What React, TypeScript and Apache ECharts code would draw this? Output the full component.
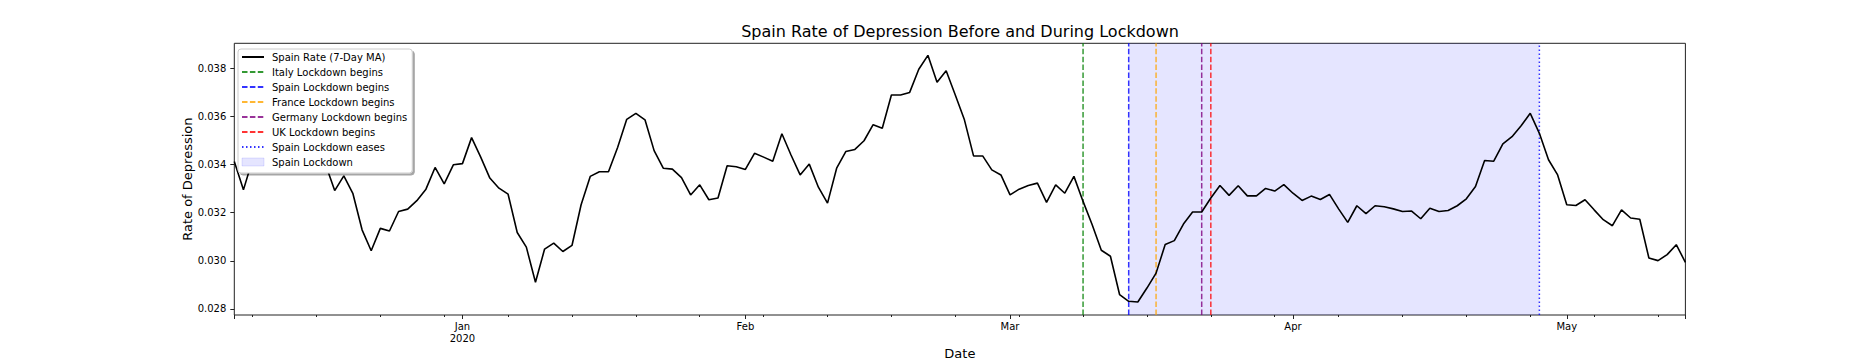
import { useEffect, useRef } from "react";
import * as echarts from "echarts";

// ---- data ----
const startDate = "2019-12-07";
const endDate = "2020-05-14";

// Daily 7-day moving average of Spain's rate of depression, starting at startDate
const spainRate7DayMA = [
  0.03413, 0.03295, 0.0342, 0.0346, 0.0349, 0.0351, 0.0348, 0.035, 0.0346, 0.0343,
  0.034, 0.03292, 0.03353, 0.03279, 0.03129, 0.03042, 0.03135, 0.03124, 0.03205, 0.03215,
  0.0325, 0.03298, 0.03388, 0.0332, 0.03399, 0.03404, 0.03512, 0.03431, 0.03344, 0.03302,
  0.03277, 0.03118, 0.03057, 0.02911, 0.03049, 0.03074, 0.03039, 0.03064, 0.03233, 0.03351,
  0.0337, 0.0337, 0.03471, 0.03588, 0.03613, 0.03586, 0.03458, 0.03385, 0.03381, 0.03346,
  0.03274, 0.03316, 0.03254, 0.03261, 0.03395, 0.03391, 0.0338, 0.03447, 0.03431, 0.03414,
  0.03528, 0.0344, 0.03357, 0.03402, 0.03306, 0.0324, 0.03385, 0.03454, 0.03463, 0.03499,
  0.03566, 0.03551, 0.03689, 0.03689, 0.037, 0.03796, 0.03854, 0.03742, 0.0379, 0.03689,
  0.03586, 0.03436, 0.03436, 0.03378, 0.03357, 0.03274, 0.03298, 0.03313, 0.03323, 0.03243,
  0.03316, 0.03281, 0.03351, 0.03247, 0.0315, 0.03044, 0.03019, 0.0286, 0.02832, 0.02829,
  0.02887, 0.02949, 0.03068, 0.03084, 0.03153, 0.03203, 0.03203, 0.03261, 0.03313, 0.03272,
  0.03312, 0.0327, 0.0327, 0.03301, 0.0329, 0.03317, 0.03281, 0.03251, 0.03269, 0.03255,
  0.03276, 0.03216, 0.0316, 0.03229, 0.03196, 0.03229, 0.03225, 0.03216, 0.03205, 0.03207,
  0.03175, 0.03219, 0.03205, 0.03209, 0.03229, 0.03258, 0.03309, 0.03417, 0.03414, 0.03486,
  0.03516, 0.03561, 0.03613, 0.0353, 0.0342, 0.03357, 0.03233, 0.0323, 0.03254, 0.03212,
  0.03171, 0.03146, 0.03212, 0.03178, 0.03173, 0.03012, 0.03001, 0.03026, 0.03067, 0.02994,
];

const monthTickDates = ["2020-01-01", "2020-02-01", "2020-03-01", "2020-04-01", "2020-05-01"];
const monthTickLabels = ["Jan\n2020", "Feb", "Mar", "Apr", "May"];
const weekTickDates = [
  "2019-12-09", "2019-12-16", "2019-12-23", "2019-12-30", "2020-01-06", "2020-01-13",
  "2020-01-20", "2020-01-27", "2020-02-03", "2020-02-10", "2020-02-17", "2020-02-24",
  "2020-03-02", "2020-03-09", "2020-03-16", "2020-03-23", "2020-03-30", "2020-04-06",
  "2020-04-13", "2020-04-20", "2020-04-27", "2020-05-04", "2020-05-11",
];

const yTickValues = [0.028, 0.03, 0.032, 0.034, 0.036, 0.038];
const yMin = 0.02775;
const yMax = 0.03904;

const eventNames = [
  "Italy Lockdown begins",
  "Spain Lockdown begins",
  "France Lockdown begins",
  "Germany Lockdown begins",
  "UK Lockdown begins",
  "Spain Lockdown eases",
];
const eventDates = ["2020-03-09", "2020-03-14", "2020-03-17", "2020-03-22", "2020-03-23", "2020-04-28"];
const eventColors = ["#008000", "#0000ff", "#ffa500", "#800080", "#ff0000", "#0000ff"];
const eventDashed = [true, true, true, true, true, false];

const lockdownName = "Spain Lockdown";
const lockdownStart = "2020-03-14";
const lockdownEnd = "2020-04-28";

const lineName = "Spain Rate (7-Day MA)";

const FONT = "DejaVu Sans";
const SHADE = "rgba(0,0,255,0.1)";

function dayIndex(s: string): number {
  return Math.round((Date.parse(s) - Date.parse(startDate)) / 86400000);
}

export default function App() {
  const ref = useRef<HTMLDivElement>(null);

  useEffect(() => {
    if (!ref.current) return;
    const chart = echarts.init(ref.current, undefined, { renderer: "svg" });

    const lastIdx = dayIndex(endDate);
    const monthIdx = monthTickDates.map(dayIndex);
    const weekIdx = weekTickDates.map(dayIndex);

    const eventSeries = eventNames.map((name, i) => {
      const x = dayIndex(eventDates[i]);
      return {
        name,
        type: "line",
        data: [
          [x, yMin],
          [x, yMax],
        ],
        symbol: "none",
        silent: true,
        z: 3,
        lineStyle: {
          color: eventColors[i],
          opacity: 0.8,
          width: 1.5,
          type: eventDashed[i] ? [5.5, 2.4] : [1.5, 2.5],
        },
        itemStyle: { color: eventColors[i] },
      };
    });

    const option: any = {
      animation: false,
      backgroundColor: "#ffffff",
      title: {
        text: "Spain Rate of Depression Before and During Lockdown",
        left: 960,
        top: 23,
        padding: 0,
        textAlign: "center",
        textStyle: { fontFamily: FONT, fontSize: 16, fontWeight: "normal", color: "#000" },
      },
      legend: {
        z: 20,
        orient: "vertical",
        left: 238,
        top: 49,
        padding: [2, 5, 5, 3],
        itemWidth: 22,
        itemHeight: 8,
        itemGap: 3,
        backgroundColor: "#ffffff",
        borderColor: "#cccccc",
        borderWidth: 1,
        borderRadius: 3,
        shadowColor: "rgba(0,0,0,0.35)",
        shadowBlur: 1,
        shadowOffsetX: 2,
        shadowOffsetY: 2,
        selectedMode: false,
        itemStyle: { opacity: 0 },
        textStyle: {
          fontFamily: FONT,
          fontSize: 10,
          color: "#000",
          lineHeight: 12,
          padding: [0, 0, 0, 3],
        },
        data: [
          { name: lineName },
          ...eventNames.map((n) => ({ name: n })),
          {
            name: lockdownName,
            icon: "rect",
            itemStyle: {
              opacity: 1,
              color: SHADE,
              borderColor: SHADE,
              borderWidth: 1,
            },
          },
        ],
      },
      grid: {
        left: 234.3,
        right: 186.6,
        top: 43.3,
        bottom: 45,
        show: true,
        borderColor: "#222",
        borderWidth: 1,
        backgroundColor: "transparent",
        outerBoundsMode: "none",
        containLabel: false,
      },
      xAxis: [
        {
          type: "value",
          min: 0,
          max: lastIdx,
          name: "Date",
          nameLocation: "middle",
          nameGap: 31,
          nameMoveOverlap: false,
          nameTextStyle: { fontFamily: FONT, fontSize: 13, color: "#000", lineHeight: 14 },
          axisLine: { show: false },
          splitLine: { show: false },
          axisTick: {
            show: true,
            length: 4,
            lineStyle: { color: "#222", width: 1 },
            customValues: [0, ...monthIdx, lastIdx],
          },
          axisLabel: {
            show: true,
            margin: 5,
            fontFamily: FONT,
            fontSize: 10,
            color: "#000",
            lineHeight: 12,
            customValues: monthIdx,
            formatter: (v: number) => {
              const k = monthIdx.indexOf(Math.round(v));
              return k >= 0 ? monthTickLabels[k] : "";
            },
          },
        },
        {
          type: "value",
          min: 0,
          max: lastIdx,
          position: "bottom",
          axisLine: { show: false },
          splitLine: { show: false },
          axisLabel: { show: false },
          axisTick: {
            show: true,
            length: 2,
            lineStyle: { color: "#222", width: 1 },
            customValues: weekIdx,
          },
        },
      ],
      yAxis: {
        type: "value",
        min: yMin,
        max: yMax,
        name: "Rate of Depression",
        nameLocation: "middle",
        nameGap: 40,
        nameMoveOverlap: false,
        nameTextStyle: { fontFamily: FONT, fontSize: 13, color: "#000" },
        axisLine: { show: false },
        splitLine: { show: false },
        axisTick: {
          show: true,
          length: 4,
          lineStyle: { color: "#222", width: 1 },
          customValues: yTickValues,
        },
        axisLabel: {
          show: true,
          margin: 8,
          fontFamily: FONT,
          fontSize: 10,
          color: "#000",
          customValues: yTickValues,
          formatter: (v: number) => v.toFixed(3),
        },
      },
      series: [
        {
          name: lockdownName,
          type: "line",
          data: [],
          symbol: "none",
          silent: true,
          z: 1,
          lineStyle: { width: 0 },
          itemStyle: { color: SHADE },
          markArea: {
            silent: true,
            itemStyle: { color: SHADE },
            data: [[{ xAxis: dayIndex(lockdownStart) }, { xAxis: dayIndex(lockdownEnd) }]],
          },
        },
        ...eventSeries,
        {
          name: lineName,
          type: "line",
          data: spainRate7DayMA.map((v, i) => [i, v]),
          symbol: "none",
          z: 3,
          lineStyle: { color: "#000000", width: 1.6 },
          itemStyle: { color: "#000000" },
        },
      ],
    };

    chart.setOption(option);
    return () => chart.dispose();
  }, []);

  return (
    <div
      ref={ref}
      style={{ position: "absolute", left: 0, top: 0, width: 1872, height: 360 }}
    />
  );
}
